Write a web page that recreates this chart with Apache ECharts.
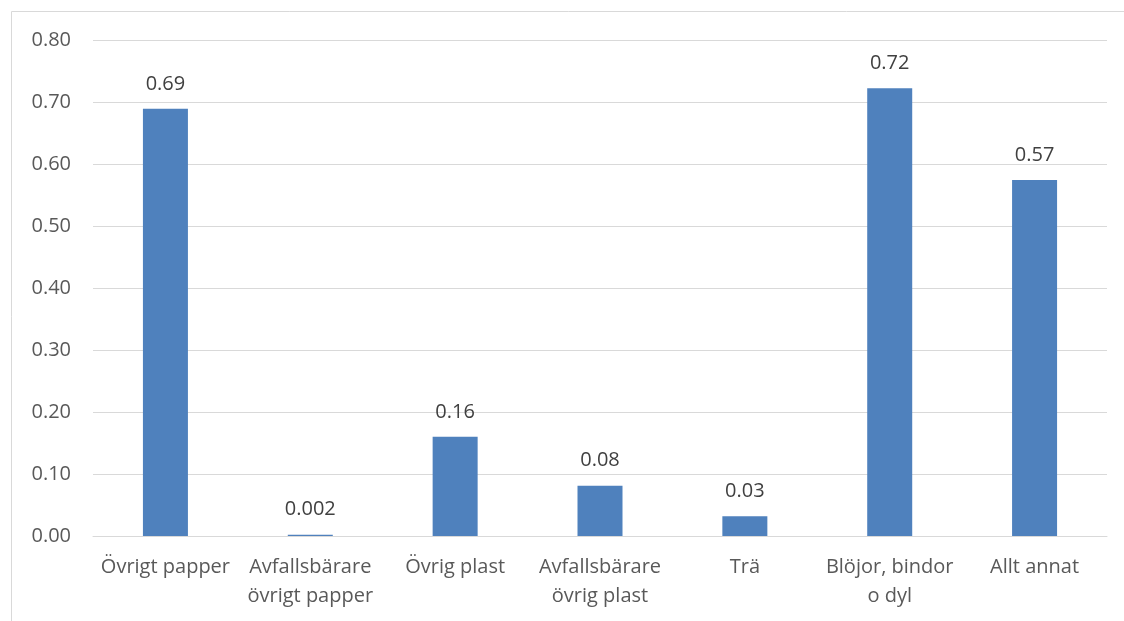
<!DOCTYPE html>
<html>
<head>
<meta charset="utf-8">
<script src="https://cdn.jsdelivr.net/npm/echarts@6/dist/echarts.min.js"></script>
<style>
  html, body { margin: 0; padding: 0; background: #fff; }
  #chart { width: 1124px; height: 621px; }
</style>
</head>
<body>
<div id="chart"></div>
<script>
const categories = ['Övrigt papper', 'Avfallsbärare\növrigt papper', 'Övrig plast', 'Avfallsbärare\növrig plast', 'Trä', 'Blöjor, bindor\no dyl', 'Allt annat']
const values = [0.689, 0.002, 0.16, 0.081, 0.032, 0.722, 0.574]
const valueLabels = ['0.69', '0.002', '0.16', '0.08', '0.03', '0.72', '0.57']

const font = '"Open Sans", "Noto Sans", sans-serif'
const c = echarts.init(document.getElementById('chart'))
c.setOption({
  animation: false,
  graphic: [{
    type: 'rect',
    shape: {x: 11.5, y: 11.5, width: 1140, height: 640},
    style: {fill: 'none', stroke: '#d9d9d9', lineWidth: 1},
    silent: true
  }],
  grid: {left: 93, right: 17, top: 40, bottom: 85, containLabel: false},
  xAxis: {
    type: 'category',
    data: categories,
    axisLine: {lineStyle: {color: '#d9d9d9', width: 1}},
    axisTick: {show: false},
    axisLabel: {
      color: '#595959', fontSize: 20, fontFamily: font,
      margin: 17, lineHeight: 29, interval: 0
    }
  },
  yAxis: {
    type: 'value',
    min: 0, max: 0.8, interval: 0.1,
    axisLine: {show: false},
    axisTick: {show: false},
    splitLine: {lineStyle: {color: '#d9d9d9', width: 1}},
    axisLabel: {
      color: '#595959', fontSize: 20, fontFamily: font, margin: 22,
      formatter: v => v.toFixed(2)
    }
  },
  series: [{
    type: 'bar',
    data: values,
    barWidth: 45,
    itemStyle: {color: '#4f81bd'},
    label: {
      show: true, position: 'top', distance: 15,
      color: '#404040', fontSize: 20, fontFamily: font,
      formatter: p => valueLabels[p.dataIndex]
    }
  }]
})
</script>
</body>
</html>
